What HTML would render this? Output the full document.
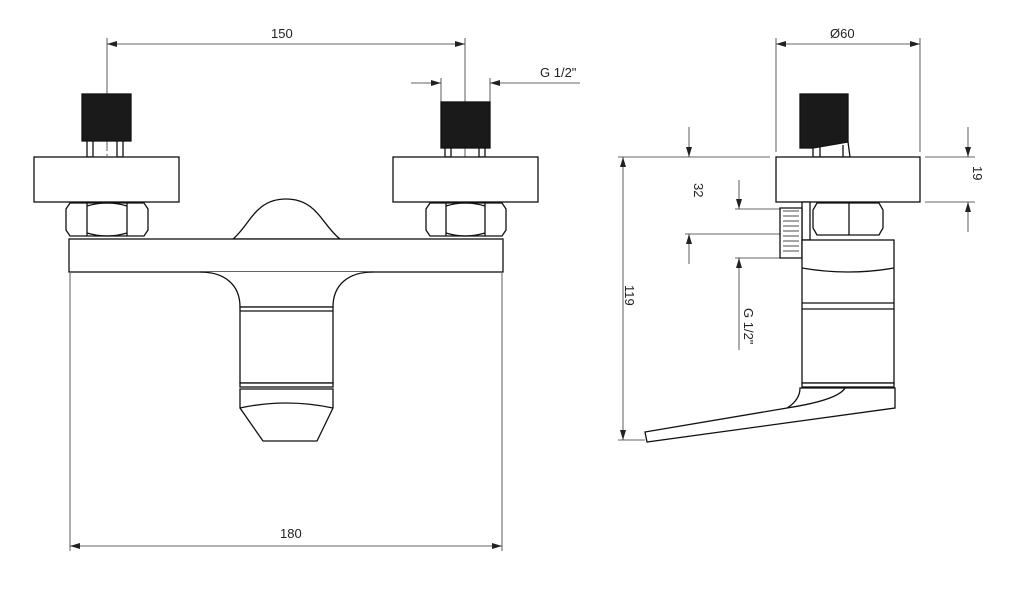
<!DOCTYPE html>
<html><head><meta charset="utf-8"><style>
html,body{margin:0;padding:0;background:#fff;}
svg{display:block}
text{font-family:"Liberation Sans",sans-serif;font-size:13px;fill:#222;}
</style></head><body>
<svg width="1024" height="589" viewBox="0 0 1024 589" xmlns="http://www.w3.org/2000/svg">
<defs>
<marker id="a" viewBox="0 0 10 6" refX="10" refY="3" markerWidth="10" markerHeight="6" orient="auto-start-reverse" markerUnits="userSpaceOnUse"><path d="M0,0 L10,3 L0,6 z" fill="#222"/></marker>
</defs>
<g stroke="#333" stroke-width="0.8" fill="none">
<!-- dimension 150 -->
<line x1="107" y1="38" x2="107" y2="94"/>
<line x1="465" y1="38" x2="465" y2="102"/>
<line x1="107" y1="44" x2="465" y2="44" marker-start="url(#a)" marker-end="url(#a)"/>
<!-- G 1/2 top -->
<line x1="441" y1="78" x2="441" y2="102"/>
<line x1="490" y1="78" x2="490" y2="102"/>
<line x1="411" y1="83" x2="441" y2="83" marker-end="url(#a)"/>
<line x1="580" y1="83" x2="490" y2="83" marker-end="url(#a)"/>
<!-- 180 -->
<line x1="70" y1="273" x2="70" y2="551"/>
<line x1="502" y1="273" x2="502" y2="551"/>
<line x1="70" y1="546" x2="502" y2="546" marker-start="url(#a)" marker-end="url(#a)"/>
<!-- centerlines -->
<line x1="107" y1="141" x2="107" y2="212" stroke-dasharray="10,3,2,3"/>
<line x1="465" y1="148" x2="465" y2="212" stroke-dasharray="10,3,2,3"/>
<!-- O60 -->
<line x1="776" y1="38" x2="776" y2="152"/>
<line x1="920" y1="38" x2="920" y2="152"/>
<line x1="776" y1="44" x2="920" y2="44" marker-start="url(#a)" marker-end="url(#a)"/>
<!-- 119 -->
<line x1="618" y1="157" x2="770" y2="157"/>
<line x1="618" y1="440" x2="645" y2="440"/>
<line x1="623" y1="157" x2="623" y2="440" marker-start="url(#a)" marker-end="url(#a)"/>
<!-- 32 -->
<line x1="689" y1="127" x2="689" y2="157" marker-end="url(#a)"/>
<line x1="689" y1="264" x2="689" y2="234" marker-end="url(#a)"/>
<line x1="685" y1="234" x2="800" y2="234"/>
<!-- G1/2 side -->
<line x1="735" y1="209" x2="790" y2="209"/>
<line x1="735" y1="258" x2="790" y2="258"/>
<line x1="739" y1="180" x2="739" y2="209" marker-end="url(#a)"/>
<line x1="739" y1="350" x2="739" y2="258" marker-end="url(#a)"/>
<!-- 19 -->
<line x1="925" y1="157" x2="975" y2="157"/>
<line x1="925" y1="202" x2="975" y2="202"/>
<line x1="968" y1="127" x2="968" y2="157" marker-end="url(#a)"/>
<line x1="968" y1="232" x2="968" y2="202" marker-end="url(#a)"/>
</g>
<g stroke="#111" stroke-width="1.3" fill="#fff">
<!-- left front view -->
<rect x="82" y="94" width="49" height="47" fill="#1a1a1a"/>
<rect x="87" y="141" width="6" height="16"/><rect x="117" y="141" width="6" height="16"/>
<rect x="34" y="157" width="145" height="45"/>
<path d="M70,203 H144 L148,209 V230 L144,236 H70 L66,230 V209 Z"/>
<line x1="87" y1="203" x2="87" y2="236"/><line x1="127" y1="203" x2="127" y2="236"/>
<path d="M87,206 Q107,200 127,206 M87,233 Q107,239 127,233" fill="none"/>
<rect x="441" y="102" width="49" height="46" fill="#1a1a1a"/>
<rect x="445" y="148" width="6" height="9"/><rect x="479" y="148" width="6" height="9"/>
<rect x="393" y="157" width="145" height="45"/>
<path d="M430,203 H502 L506,209 V230 L502,236 H430 L426,230 V209 Z"/>
<line x1="446" y1="203" x2="446" y2="236"/><line x1="485" y1="203" x2="485" y2="236"/>
<path d="M446,206 Q465,200 485,206 M446,233 Q465,239 485,233" fill="none"/>
<path d="M233,239 C250,225 255,199 286,199 C317,199 322,225 340,239 Z"/>
<rect x="69" y="239" width="434" height="33"/>
<path d="M200,272 C225,272 240,285 240,307 H333 C333,285 348,272 373,272" />
<rect x="240" y="307" width="93" height="76"/>
<line x1="240" y1="311" x2="333" y2="311"/>
<rect x="240" y="383" width="93" height="4" fill="#fff"/>
<path d="M240,389 H333 V408 L317,441 H263 L240,408 Z"/>
<path d="M240,408 Q286,398 333,408" fill="none"/>
<!-- side view -->
<rect x="800" y="94" width="48" height="54" fill="#1a1a1a"/>
<path d="M813,148 L848,142 L850,157 L813,157 Z M820,147 V157 M843,145 V157" fill="#fff"/>
<rect x="776" y="157" width="144" height="45"/>
<rect x="802" y="202" width="8" height="38"/>
<path d="M780,208 H802 V258 H780 Z"/>
<path d="M783,211 H799 M783,216 H799 M783,221 H799 M783,226 H799 M783,231 H799 M783,236 H799 M783,241 H799 M783,246 H799 M783,251 H799" fill="none" stroke-width="0.8"/>
<path d="M817,203 H879 L883,210 V228 L879,235 H817 L813,228 V210 Z"/>
<line x1="849" y1="203" x2="849" y2="235"/>
<rect x="802" y="240" width="92" height="143"/>
<path d="M802,268 Q848,276 894,268" fill="none"/>
<line x1="802" y1="303" x2="894" y2="303"/><line x1="802" y1="309" x2="894" y2="309"/>
<rect x="802" y="383" width="92" height="4"/>
<path d="M800,388 H895 V408 L647,442 L645,432 L787,408 Q800,400 800,388 Z"/>
<path d="M787,408 Q838,400 845,388" fill="none"/>
</g>
<text x="271" y="38">150</text>
<text x="540" y="77">G 1/2"</text>
<text x="280" y="538">180</text>
<text x="830" y="38">Ø60</text>
<text transform="translate(625,285) rotate(90)">119</text>
<text transform="translate(694,183) rotate(90)">32</text>
<text transform="translate(744,308) rotate(90)">G 1/2"</text>
<text transform="translate(973,166) rotate(90)">19</text>
</svg>
</body></html>
